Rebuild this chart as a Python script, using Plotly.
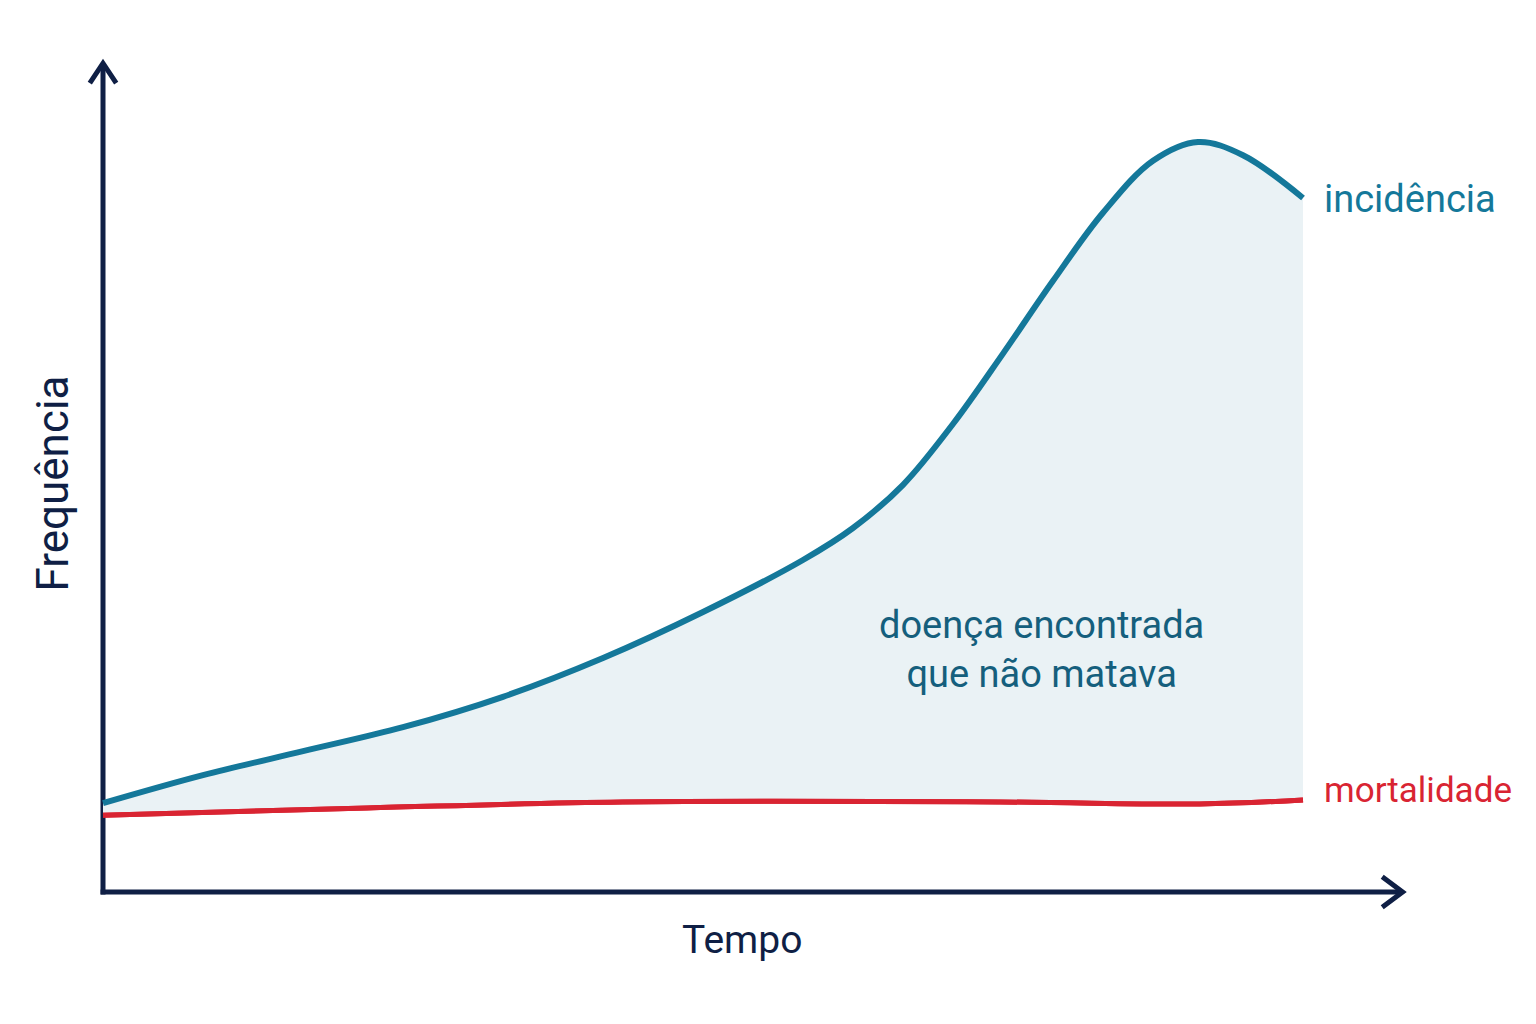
import plotly.graph_objects as go

# values (time 0..100, frequency in arbitrary units)
tempo = [0, 8.33, 16.67, 25, 33.33, 41.67, 50, 58.33, 62.5, 66.67, 70.83,
         75, 79.17, 83.33, 87.5, 91.25, 95, 100]
incidencia = [11.1, 14.6, 17.6, 20.6, 24.4, 29.25, 35.0, 41.5, 45.5, 50.9, 58.5,
              67.3, 76.4, 84.9, 91.4, 93.75, 92.1, 86.75]
tempo_mort = [0, 22, 43.3, 74.75, 91.4, 100]
mortalidade = [9.6, 10.5, 11.25, 11.25, 11.0, 11.5]

navy = "#0f1f45"
teal = "#14789a"
red = "#d92432"
font = "Roboto"

fig = go.Figure()
# lower edge of the shaded area is the mortality curve
fig.add_trace(go.Scatter(x=tempo_mort, y=mortalidade, mode="lines",
                         line=dict(color=red, width=5, shape="spline"),
                         hoverinfo="skip"))
fig.add_trace(go.Scatter(x=tempo, y=incidencia, mode="lines",
                         line=dict(color=teal, width=6, shape="spline", smoothing=1.0),
                         fill="tonexty", fillcolor="#eaf2f5",
                         hoverinfo="skip"))
# mortality again so it sits over the fill
fig.add_trace(go.Scatter(x=tempo_mort, y=mortalidade, mode="lines",
                         line=dict(color=red, width=5, shape="spline"),
                         hoverinfo="skip"))

axis_line = dict(color=navy, width=5)
shapes = [
    dict(type="line", xref="x", yref="y", x0=-0.2, y0=0, x1=108.1, y1=0, line=axis_line, layer="below"),
    dict(type="line", xref="x", yref="y", x0=0, y0=-0.3, x1=0, y1=103.4, line=axis_line, layer="below"),
    dict(type="path", xref="x", yref="y",
         path="M 106.6,1.9 L 108.3,0 L 106.6,-1.9", line=dict(color=navy, width=5)),
    dict(type="path", xref="x", yref="y",
         path="M -1.1,101.1 L 0,103.6 L 1.1,101.1", line=dict(color=navy, width=5)),
]

annotations = [
    dict(x=101.6, y=86.6, text="incidência", xanchor="left", yanchor="middle",
         font=dict(family=font, size=38, color=teal)),
    dict(x=101.6, y=12.7, text="mortalidade", xanchor="left", yanchor="middle",
         font=dict(family=font, size=35, color=red)),
    dict(x=78.2, y=30.3, text="doença encontrada<br>que não matava", xanchor="center",
         yanchor="middle", font=dict(family=font, size=38, color="#155f7d")),
    dict(x=53.25, y=-6.0, text="Tempo", xanchor="center", yanchor="middle",
         font=dict(family=font, size=39, color=navy)),
    dict(x=-4.2, y=51.0, text="Frequência", textangle=-90, xanchor="center", yanchor="middle",
         font=dict(family=font, size=44, color=navy)),
]
for a in annotations:
    a.update(xref="x", yref="y", showarrow=False)

fig.update_layout(
    width=1520, height=1000,
    margin=dict(l=35, r=81, t=36, b=52),
    paper_bgcolor="white", plot_bgcolor="white",
    showlegend=False,
    shapes=shapes,
    annotations=annotations,
    xaxis=dict(range=[-5, 112], visible=False, fixedrange=True),
    yaxis=dict(range=[-8, 106], visible=False, fixedrange=True),
)

fig.write_html("out.html")
